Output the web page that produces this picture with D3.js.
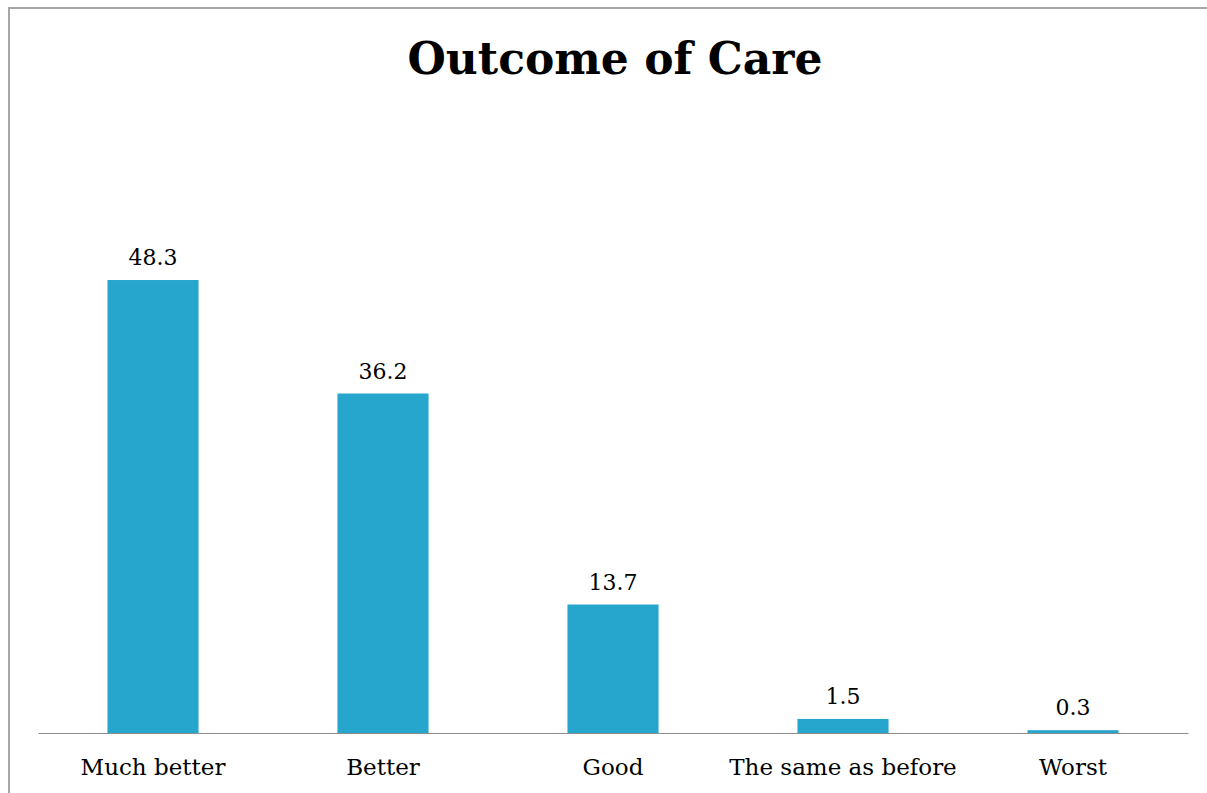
<!DOCTYPE html>
<html>
<head>
<meta charset="utf-8">
<script src="https://cdn.jsdelivr.net/npm/d3@7"></script>
<style>
  html, body { margin: 0; padding: 0; background: #fff; }
  svg { display: block; }
</style>
</head>
<body>
<svg id="chart" width="1207" height="793"></svg>
<script>
// Share of responses by outcome (%)
const categories = ["Much better", "Better", "Good", "The same as before", "Worst"];
const values = [48.3, 36.2, 13.7, 1.5, 0.3];
const valueLabels = ["48.3", "36.2", "13.7", "1.5", "0.3"];
const title = "Outcome of Care";

const W = 1207, H = 793;
const svg = d3.select("#chart");
const serif = "Georgia, 'DejaVu Serif', 'Liberation Serif', serif";

// Frame
svg.append("rect")
  .attr("x", 9).attr("y", 8)
  .attr("width", W + 10).attr("height", H + 10)
  .attr("fill", "#fff")
  .attr("stroke", "#a6a6a6")
  .attr("stroke-width", 2);

const plot = { left: 38, right: 1188, bottom: 733 };

const x = d3.scaleBand()
  .domain(categories)
  .range([plot.left, plot.right])
  .paddingInner(0.604)
  .paddingOuter(0.302);

const y = d3.scaleLinear()
  .domain([0, 60])
  .range([plot.bottom, plot.bottom - 562.7]);

// Title
svg.append("text")
  .attr("x", 615).attr("y", 74)
  .attr("text-anchor", "middle")
  .attr("font-family", serif)
  .attr("font-weight", "bold")
  .attr("font-size", 44)
  .attr("fill", "#000")
  .text(title);

// Bars
svg.append("g").selectAll("rect")
  .data(values)
  .join("rect")
  .attr("x", (d, i) => x(categories[i]))
  .attr("width", x.bandwidth())
  .attr("y", d => y(d))
  .attr("height", d => y(0) - y(d))
  .attr("fill", "#26a5cd");

// Value labels
svg.append("g").selectAll("text")
  .data(values)
  .join("text")
  .attr("x", (d, i) => x(categories[i]) + x.bandwidth() / 2)
  .attr("y", d => y(d) - 15)
  .attr("text-anchor", "middle")
  .attr("font-family", serif)
  .attr("font-size", 22)
  .attr("fill", "#000")
  .text((d, i) => valueLabels[i]);

// Category axis
const axis = svg.append("g")
  .attr("transform", `translate(0,${plot.bottom})`)
  .call(d3.axisBottom(x).tickSize(0).tickPadding(26));
axis.select(".domain").attr("stroke", "#8c8c8c").attr("stroke-width", 1.2);
axis.selectAll("text")
  .attr("font-family", serif)
  .attr("font-size", 23)
  .attr("fill", "#000")
  .attr("dy", "0.71em");
</script>
</body>
</html>
